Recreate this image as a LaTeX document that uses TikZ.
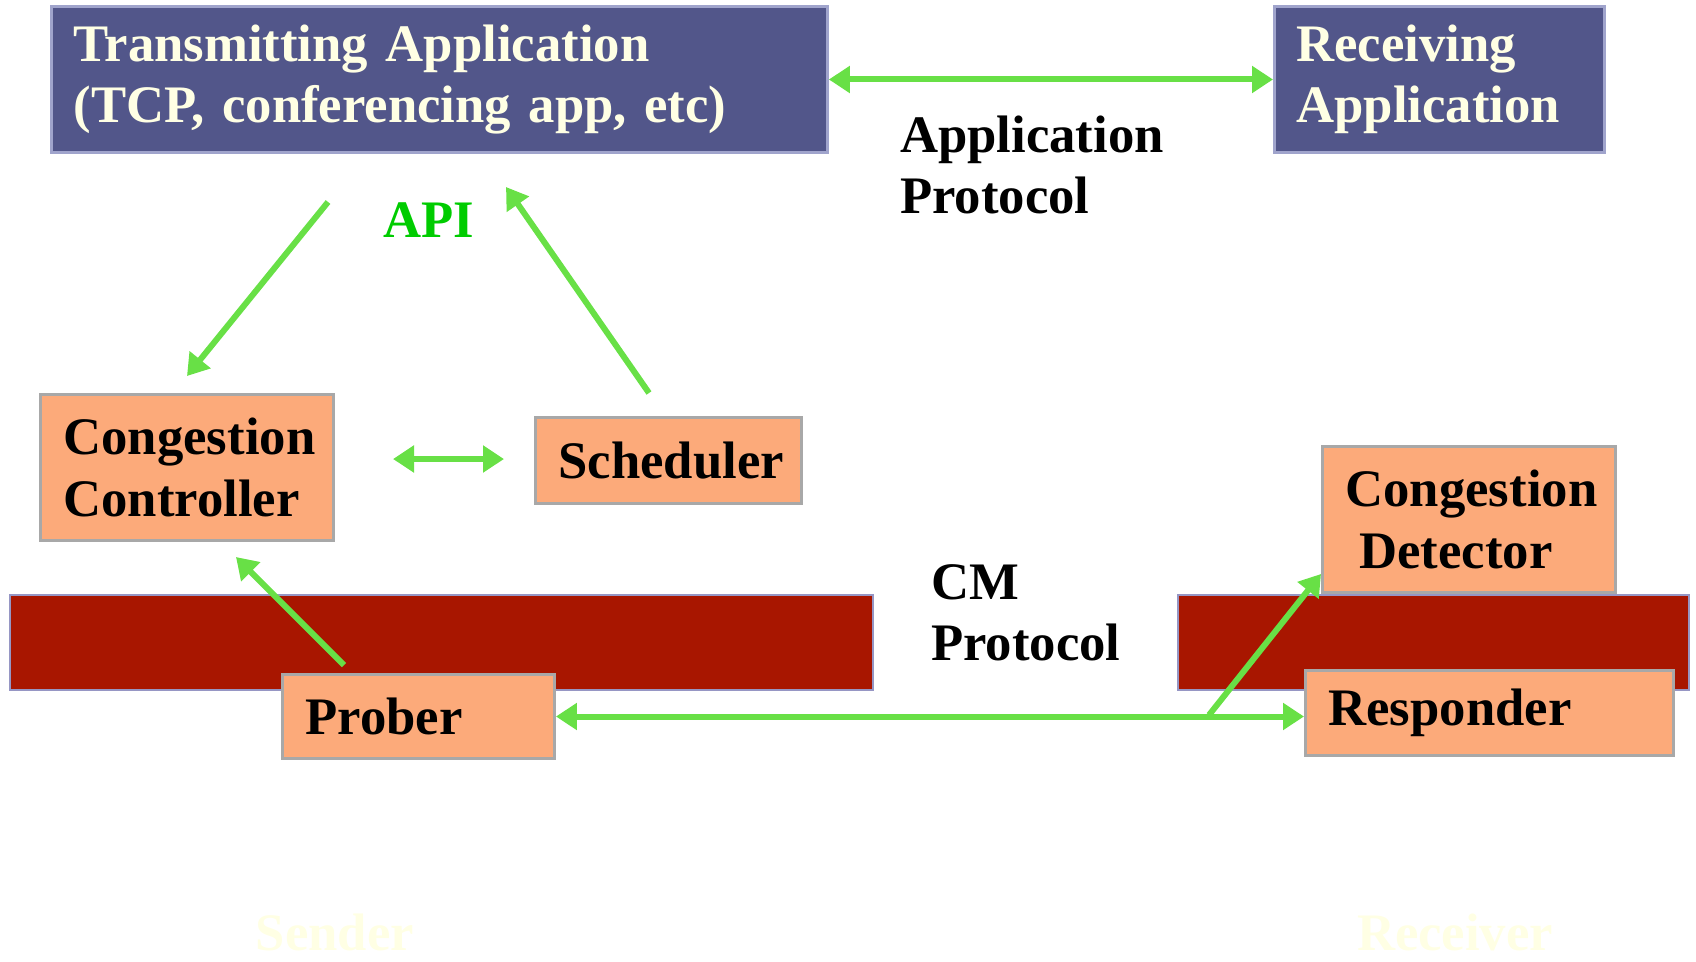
\documentclass[tikz,border=0pt]{standalone}
\usepackage{fontspec}
\setmainfont{Liberation Serif}
\usetikzlibrary{positioning, arrows.meta, calc}

\definecolor{appblue}{RGB}{82,86,138}
\definecolor{appedge}{RGB}{160,164,204}
\definecolor{cream}{RGB}{255,255,228}
\definecolor{cmorange}{RGB}{252,170,122}
\definecolor{cmedge}{RGB}{168,168,168}
\definecolor{barred}{RGB}{168,22,0}
\definecolor{baredge}{RGB}{150,150,196}
\definecolor{linkgreen}{RGB}{104,224,70}
\definecolor{apigreen}{RGB}{0,204,0}

\begin{document}
\begin{tikzpicture}[
    x=0.02cm, y=-0.02cm,
    every node/.style={font=\fontsize{30}{35}\selectfont\bfseries},
    appbox/.style={rectangle, draw=appedge, line width=0.06cm, fill=appblue, text=cream, anchor=north west, align=left, inner xsep=0.44cm, inner ysep=0pt},
    cmbox/.style={rectangle, draw=cmedge, line width=0.06cm, fill=cmorange, anchor=north west, align=left, inner xsep=0.46cm, inner ysep=0pt},
    bar/.style={rectangle, draw=baredge, line width=0.04cm, fill=barred, anchor=north west, inner sep=0pt},
    link/.style={-{Triangle[length=0.42cm, width=0.52cm]}, line width=0.12cm, linkgreen},
    dlink/.style={{Triangle[length=0.42cm, width=0.52cm]}-{Triangle[length=0.42cm, width=0.52cm]}, line width=0.12cm, linkgreen},
    side/.style={text=cream}
]
\useasboundingbox (0,0) rectangle (1696,961);

% Applications
\node[appbox, text width=14.64cm, minimum height=2.92cm] (tapp) at (50,5) {Transmitting Application\\(TCP, conferencing app, etc)};
\node[appbox, text width=5.72cm, minimum height=2.92cm] (rapp) at (1273,5) {Receiving\\Application};
\draw[dlink] (tapp.east) -- (rapp.west);
\node[anchor=west, align=left] (appproto) at (894,165) {Application\\Protocol};

% API
\node[text=apigreen] (api) at (429,220) {API};
\coordinate (apiA) at (328,202);
\coordinate (apiB) at (187,376);
\coordinate (apiC) at (649,393);
\coordinate (apiD) at (506,187);
\draw[link] (apiA) -- (apiB);
\draw[link] (apiC) -- (apiD);

% CM bars
\node[bar, minimum width=17.26cm, minimum height=1.9cm] (barL) at (9,594) {};
\node[bar, minimum width=10.22cm, minimum height=1.9cm] (barR) at (1177,594) {};

% Sender side
\node[cmbox, text width=4.94cm, minimum height=2.92cm] (cctrl) at (39,393) {Congestion\\Controller};
\node[cmbox, text width=4.4cm, minimum height=1.72cm] (sched) at (534,416) {Scheduler};
\node[cmbox, text width=4.52cm, minimum height=1.68cm] (prober) at (281,673) {Prober};
\coordinate (ccR) at (393,459);
\coordinate (schL) at (504,459);
\draw[dlink] (ccR) -- (schL);
\coordinate (probTop) at (344,665);
\coordinate (ccBot) at (236,557);
\draw[link] (probTop) -- (ccBot);

% Receiver side
\node[cmbox, text width=4.94cm, minimum height=2.92cm] (cdet) at (1321,445) {Congestion\\\hspace*{0.28cm}Detector};
\node[cmbox, text width=6.44cm, minimum height=1.7cm] (resp) at (1304,669) {Responder};
\draw[dlink] (prober.east) -- (prober.east -| resp.west);
\coordinate (split) at (1209,715);
\draw[link] (split) -- ($(cdet.south west)+(0,-20)$);
\node[anchor=west, align=left] (cmproto) at (925,613) {CM\\Protocol};

% Sides
\node[side] (sender) at (335,932) {Sender};
\node[side] (receiver) at (1455,932) {Receiver};

\end{tikzpicture}
\end{document}
